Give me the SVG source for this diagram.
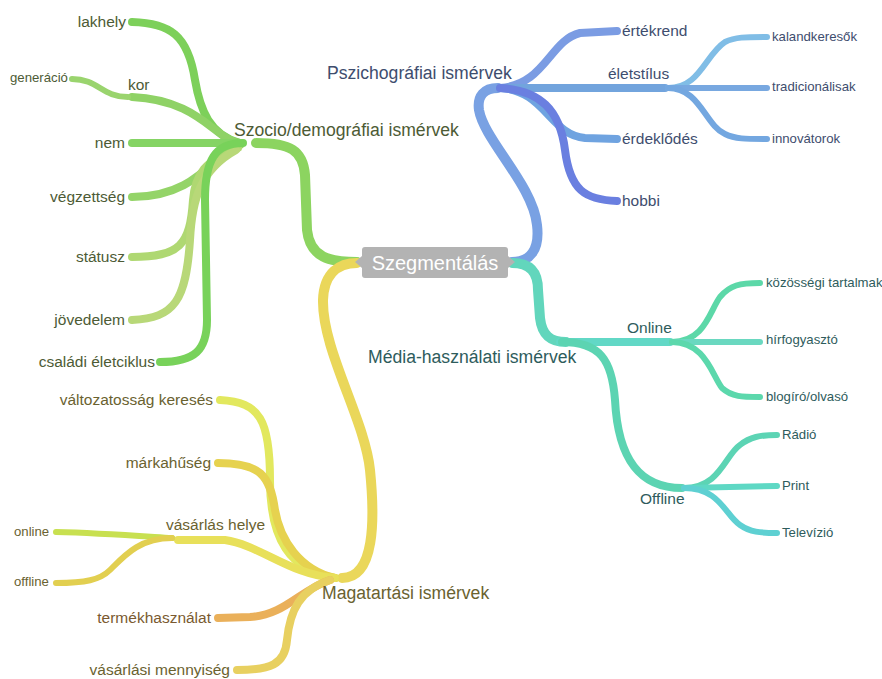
<svg xmlns="http://www.w3.org/2000/svg" width="882" height="679" viewBox="0 0 882 679">
<style>
text{font-family:"Liberation Sans",Arial,sans-serif;font-size:15.5px}
.big{font-size:17.6px}
.sm{font-size:13.2px}
.end{text-anchor:end}
.g{fill:#4d5b35}.b{fill:#3e4d6e}.t{fill:#2e5c5c}.y{fill:#6a6230}
path{fill:none;stroke-linecap:round;stroke-linejoin:round}
.w1{stroke-width:10}.w2{stroke-width:8}.w3{stroke-width:6}
</style>
<rect width="882" height="679" fill="#fff"/>
<g id="connectors">
<path class="w1" stroke="#8cd460" d="M357,262 C330,262 310,258 307,230 L305,175 C303,150 290,143 256,143"/>
<path class="w2" stroke="#7dd05a" d="M240,143 C210,135 200,110 195,80 C188,35 170,23 132,22"/>
<path class="w2" stroke="#8fd266" d="M240,143 C215,140 200,100 132,97"/>
<path class="w3" stroke="#9ad46e" d="M128,97 C102,97 98,79 72,79"/>
<path class="w2" stroke="#85d464" d="M240,143 L132,143"/>
<path class="w2" stroke="#94d468" d="M240,145 C215,150 200,197 132,197"/>
<path class="w2" stroke="#afd872" d="M238,148 C205,160 195,175 193,200 C190,245 180,257 132,257"/>
<path class="w2" stroke="#b8d878" d="M236,150 C200,170 192,200 190,240 C186,300 175,318 132,320"/>
<path class="w2" stroke="#78d25a" d="M243,143 C215,143 205,160 205,200 L207,320 C207,350 195,362 160,362"/>
<path class="w1" stroke="#79a1e3" d="M512,262 C530,262 540,250 537,225 C533,185 484,140 479,110 C477,96 484,88 498,88"/>
<path class="w2" stroke="#7b9ce3" d="M500,88 C545,85 550,40 580,33 L617,31"/>
<path class="w2" stroke="#72a4dd" d="M500,88 L665,88"/>
<path class="w2" stroke="#6fa3e0" d="M500,88 C545,90 550,135 585,138 L617,139"/>
<path class="w2" stroke="#6a7fe0" d="M500,88 C540,90 560,110 565,150 C570,190 585,200 617,201"/>
<path class="w3" stroke="#80bde6" d="M668,88 C700,88 705,55 725,42 C735,37 745,37 767,37"/>
<path class="w3" stroke="#78a8e0" d="M668,88 L767,88"/>
<path class="w3" stroke="#73a7e0" d="M668,88 C700,88 705,125 725,134 C735,139 745,139 767,139"/>
<path class="w1" stroke="#62d6bc" d="M512,263 C530,263 538,272 538,290 L540,318 C542,335 550,342 566,342"/>
<path class="w2" stroke="#62d8c6" d="M560,342 L670,342"/>
<path class="w2" stroke="#5cd4b2" d="M562,342 C600,342 612,360 615,400 C618,460 640,488 682,488"/>
<path class="w3" stroke="#5cd8a8" d="M672,342 C705,342 710,310 720,297 C730,285 740,283 760,283"/>
<path class="w3" stroke="#6ad8c0" d="M672,342 L760,342"/>
<path class="w3" stroke="#5cd8ac" d="M672,342 C705,342 712,375 722,388 C732,397 742,397 760,397"/>
<path class="w3" stroke="#5cd4b4" d="M684,488 C720,488 725,455 740,445 C750,437 760,435 777,435"/>
<path class="w3" stroke="#5ed8c4" d="M684,488 L777,486"/>
<path class="w3" stroke="#5ed0d2" d="M684,488 C720,488 725,515 740,525 C750,532 760,533 777,533"/>
<path class="w1" stroke="#ead75a" d="M357,263 C340,263 324,272 323,300 C322,350 365,420 370,470 C375,520 375,578 342,578"/>
<path class="w2" stroke="#e2e85e" d="M335,578 C290,570 270,540 270,480 C270,420 260,402 220,400"/>
<path class="w2" stroke="#e6d24f" d="M335,578 C300,570 280,540 275,510 C270,475 260,463 218,463"/>
<path class="w2" stroke="#e8e05a" d="M335,578 C290,575 260,545 225,540 L178,540"/>
<path class="w3" stroke="#c8e050" d="M172,538 C140,536 100,533 56,532"/>
<path class="w3" stroke="#e2cf50" d="M172,538 C140,538 125,555 110,570 C100,580 85,583 56,583"/>
<path class="w2" stroke="#eab05a" d="M330,580 C300,590 285,615 250,617 L218,618"/>
<path class="w2" stroke="#e8d060" d="M330,580 C300,590 290,610 287,640 C285,665 270,670 237,670"/>
</g>
<g id="root">
<rect x="362" y="247" width="146" height="31" rx="3" fill="#b3b3b3"/>
<polygon points="362,256 355,262 362,268" fill="#b3b3b3"/>
<polygon points="508,256 515,262 508,268" fill="#b3b3b3"/>
<text x="435" y="270" text-anchor="middle" fill="#fff" style="font-size:20px">Szegmentálás</text>
</g>
<g id="szocio"><text class="big g" x="234" y="136">Szocio/demográfiai ismérvek</text></g>
<g id="lakhely"><text class="g end" x="126" y="27">lakhely</text></g>
<g id="kor"><text class="g" x="128" y="90">kor</text></g>
<g id="generacio"><text class="g sm" x="10" y="82">generáció</text></g>
<g id="nem"><text class="g end" x="125" y="148">nem</text></g>
<g id="vegzettseg"><text class="g end" x="125" y="202">végzettség</text></g>
<g id="statusz"><text class="g end" x="125" y="262">státusz</text></g>
<g id="jovedelem"><text class="g end" x="125" y="325">jövedelem</text></g>
<g id="csaladi"><text class="g end" x="155" y="367">családi életciklus</text></g>
<g id="pszicho"><text class="big b" x="327" y="79">Pszichográfiai ismérvek</text></g>
<g id="ertekrend"><text class="b" x="622" y="36">értékrend</text></g>
<g id="eletstilus"><text class="b" x="608" y="79">életstílus</text></g>
<g id="erdeklodes"><text class="b" x="622" y="144">érdeklődés</text></g>
<g id="hobbi"><text class="b" x="622" y="206">hobbi</text></g>
<g id="kalandkeresok"><text class="b sm" x="772" y="41">kalandkeresők</text></g>
<g id="tradicionalisak"><text class="b sm" x="772" y="91">tradicionálisak</text></g>
<g id="innovatorok"><text class="b sm" x="772" y="143">innovátorok</text></g>
<g id="media"><text class="big t" x="368" y="363">Média-használati ismérvek</text></g>
<g id="online-m"><text class="t" x="627" y="333">Online</text></g>
<g id="offline-m"><text class="t" x="640" y="504">Offline</text></g>
<g id="kozossegi"><text class="t sm" x="766" y="287">közösségi tartalmak</text></g>
<g id="hirfogyaszto"><text class="t sm" x="766" y="344">hírfogyasztó</text></g>
<g id="blogiro"><text class="t sm" x="766" y="401">blogíró/olvasó</text></g>
<g id="radio"><text class="t sm" x="782" y="439">Rádió</text></g>
<g id="print"><text class="t sm" x="782" y="490">Print</text></g>
<g id="televizio"><text class="t sm" x="782" y="537">Televízió</text></g>
<g id="magatartasi"><text class="big y" x="322" y="599">Magatartási ismérvek</text></g>
<g id="valtozatossag"><text class="y end" x="213" y="405">változatosság keresés</text></g>
<g id="markahuseg"><text class="y end" x="211" y="468">márkahűség</text></g>
<g id="vasarlas-helye"><text class="y" x="166" y="530">vásárlás helye</text></g>
<g id="online-v"><text class="y sm" x="14" y="536">online</text></g>
<g id="offline-v"><text class="y sm" x="14" y="586">offline</text></g>
<g id="termekhasznalat"><text class="end" fill="#7a5a30" x="211" y="623">termékhasználat</text></g>
<g id="vasarlasi-mennyiseg"><text class="y end" x="230" y="675">vásárlási mennyiség</text></g>
</svg>
